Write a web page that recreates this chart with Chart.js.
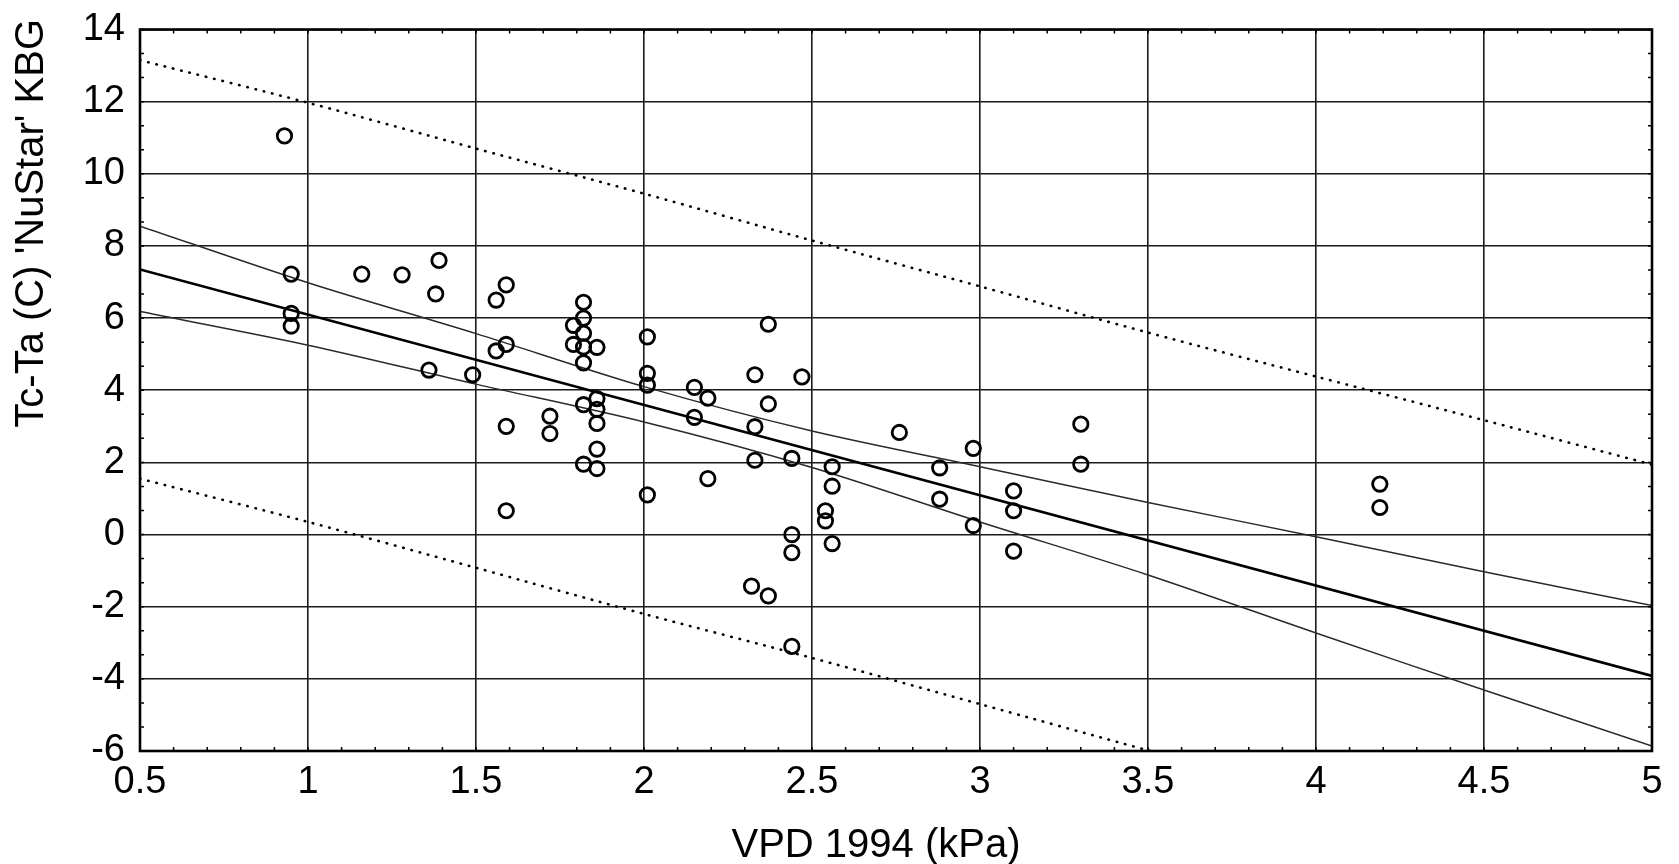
<!DOCTYPE html>
<html>
<head>
<meta charset="utf-8">
<script src="https://cdn.jsdelivr.net/npm/chart.js@4.4.0/dist/chart.umd.min.js"></script>
<style>
  body { margin: 0; background: #fff; }
</style>
</head>
<body>
<canvas id="vpdChart" width="1679" height="864"></canvas>
<script>
// observed points: VPD (kPa) vs canopy-air temperature difference
const vpd = [
  0.93, 0.95, 0.95, 0.95, 1.16, 1.28, 1.39, 1.38, 1.36, 1.49,
  1.56, 1.59, 1.56, 1.59, 1.59, 1.59, 1.72, 1.72, 1.82, 1.82,
  1.79, 1.82, 1.79, 1.82, 1.86, 1.82, 1.82, 1.86, 1.86, 1.86,
  1.86, 1.82, 1.86, 2.01, 2.01, 2.01, 2.01, 2.15, 2.19, 2.15,
  2.19, 2.37, 2.33, 2.47, 2.37, 2.33, 2.33, 2.44, 2.44, 2.44,
  2.32, 2.37, 2.44, 2.76, 3.30, 3.30, 2.98, 2.88, 2.88, 2.98,
  3.10, 3.10, 3.10, 2.56, 2.56, 2.54, 2.54, 2.56, 4.19, 4.19
];
const tcTa = [
  11.05, 7.22, 6.13, 5.78, 7.22, 7.2, 7.6, 6.67, 4.56, 4.43,
  6.5, 6.92, 5.09, 5.27, 3.0, 0.66, 3.28, 2.8, 6.44, 6.0,
  5.8, 5.58, 5.27, 5.2, 5.19, 4.76, 3.6, 3.77, 3.47, 3.08,
  2.37, 1.95, 1.83, 5.48, 4.47, 4.14, 1.1, 4.08, 3.78, 3.25,
  1.55, 5.83, 4.43, 4.37, 3.62, 2.99, 2.06, 2.11, 0.0, -0.5,
  -1.43, -1.7, -3.1, 2.83, 3.06, 1.95, 2.39, 1.85, 0.98, 0.25,
  1.21, 0.66, -0.46, 1.88, 1.34, 0.66, 0.38, -0.25, 1.4, 0.75
];

// fitted line (end points)
const fitX = [0.5, 5];
const fitY = [7.35, -3.92];

// confidence and prediction bands, read at every 0.5 kPa
const bandX = [0.5, 1, 1.5, 2, 2.5, 3, 3.5, 4, 4.5, 5];
const confUpper = [8.55, 6.98, 5.57, 4.1, 2.87, 1.88, 0.89, -0.06, -1.03, -1.97];
const confLower = [6.18, 5.25, 4.17, 3.12, 1.86, 0.35, -1.12, -2.73, -4.31, -5.86];
const predUpper = [13.15, 11.97, 10.7, 9.45, 8.15, 6.88, 5.6, 4.38, 3.17, 1.94];
const predLower = [1.55, 0.35, -0.92, -2.2, -3.42, -4.7, -5.98, -7.2, -8.5, -9.8];

const yTitle = "Tc-Ta (C) 'NuStar' KBG";
const xTitle = 'VPD 1994 (kPa)';

const fontFamily = '"Liberation Sans", Arial, sans-serif';

function pairs(xs, ys) {
  return xs.map((x, i) => ({ x: x, y: ys[i] }));
}

function bandLine(ys, dotted) {
  return {
    data: pairs(bandX, ys),
    showLine: true,
    pointRadius: 0,
    borderColor: dotted ? '#000' : '#2a2a2a',
    borderWidth: dotted ? 2.6 : 1.5,
    borderDash: dotted ? [0.5, 8] : [],
    borderCapStyle: dotted ? 'round' : 'butt',
    tension: 0.3,
    fill: false
  };
}

// box round the plot, the small inner tick marks and the axis titles
const framePlugin = {
  id: 'frame',
  afterDraw(chart) {
    const ctx = chart.ctx;
    const a = chart.chartArea;
    const xs = chart.scales.x;
    const ys = chart.scales.y;
    ctx.save();
    ctx.strokeStyle = '#000';
    ctx.lineWidth = 1.5;
    ctx.beginPath();
    for (let i = 5; i <= 50; i++) {
      const px = xs.getPixelForValue(i / 10);
      ctx.moveTo(px, a.bottom); ctx.lineTo(px, a.bottom - 4);
      ctx.moveTo(px, a.top); ctx.lineTo(px, a.top + 4);
    }
    for (let i = 0; i <= 30; i++) {
      const py = ys.getPixelForValue(-6 + i * 2 / 3);
      ctx.moveTo(a.left, py); ctx.lineTo(a.left + 4, py);
      ctx.moveTo(a.right, py); ctx.lineTo(a.right - 4, py);
    }
    ctx.stroke();
    ctx.lineWidth = 2.6;
    ctx.strokeRect(a.left, a.top, a.right - a.left, a.bottom - a.top);

    ctx.fillStyle = '#000';
    ctx.font = '40px ' + fontFamily;
    ctx.textBaseline = 'middle';
    ctx.textAlign = 'center';
    ctx.fillText(xTitle, 876, 846);

    ctx.translate(32, 19);
    ctx.rotate(-Math.PI / 2);
    ctx.textAlign = 'right';
    ctx.fillText(yTitle, 0, 0);
    ctx.restore();
  }
};

new Chart(document.getElementById('vpdChart'), {
  type: 'scatter',
  data: {
    datasets: [
      {
        data: pairs(vpd, tcTa),
        pointStyle: 'circle',
        pointRadius: 7.2,
        pointBorderWidth: 2.8,
        pointBorderColor: '#000',
        pointBackgroundColor: 'rgba(0,0,0,0)',
        showLine: false
      },
      {
        data: pairs(fitX, fitY),
        showLine: true,
        pointRadius: 0,
        borderColor: '#000',
        borderWidth: 2.6,
        fill: false
      },
      bandLine(confUpper, false),
      bandLine(confLower, false),
      bandLine(predUpper, true),
      bandLine(predLower, true)
    ]
  },
  options: {
    responsive: false,
    animation: false,
    devicePixelRatio: 1,
    layout: { padding: { top: 29.5, right: 27, left: 0, bottom: 0 } },
    plugins: {
      legend: { display: false },
      tooltip: { enabled: false }
    },
    scales: {
      x: {
        type: 'linear',
        min: 0.5,
        max: 5,
        afterFit: (scale) => {
          scale.height = 113;
          scale.paddingLeft = 0;
          scale.paddingRight = 0;
        },
        ticks: {
          stepSize: 0.5,
          padding: 8.5,
          color: '#000',
          font: { family: fontFamily, size: 38 },
          maxRotation: 0,
          callback: (v) => String(v)
        },
        grid: { color: '#1a1a1a', lineWidth: 1.6, drawTicks: false },
        border: { display: false }
      },
      y: {
        type: 'linear',
        min: -6,
        max: 14,
        afterFit: (scale) => {
          scale.width = 140;
          scale.paddingTop = 0;
          scale.paddingBottom = 0;
        },
        ticks: {
          stepSize: 2,
          padding: 15,
          color: '#000',
          font: { family: fontFamily, size: 38 },
          callback: (v) => String(v)
        },
        grid: { color: '#1a1a1a', lineWidth: 1.6, drawTicks: false },
        border: { display: false }
      }
    }
  },
  plugins: [framePlugin]
});
</script>
</body>
</html>
